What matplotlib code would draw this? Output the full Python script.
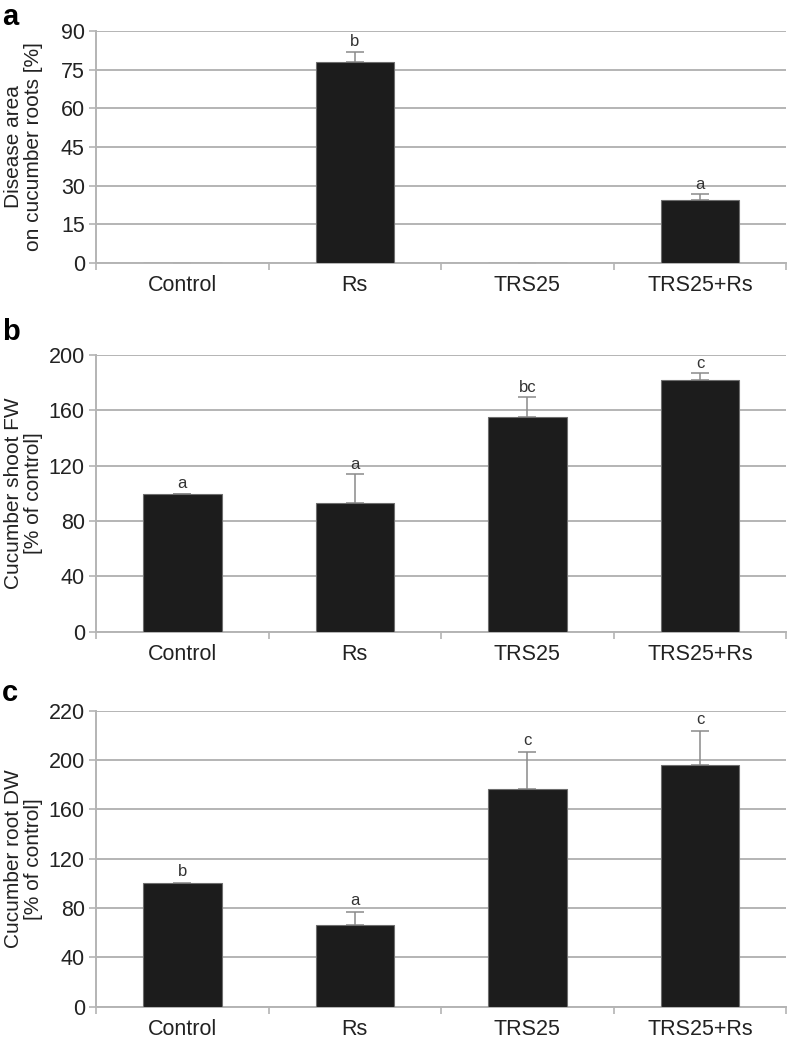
import matplotlib.pyplot as plt
import numpy as np

plt.rcParams['font.family'] = ['Liberation Sans', 'DejaVu Sans']

categories = ['Control', 'Rs', 'TRS25', 'TRS25+Rs']

# panel a: disease area
disease = [0, 78.1, 0, 24.4]
disease_err = [0, 3.9, 0, 2.2]
disease_letters = ['', 'b', '', 'a']

# panel b: shoot FW
shoot = [99.3, 93.2, 155.0, 181.9]
shoot_err = [0.3, 20.6, 14.4, 4.9]
shoot_letters = ['a', 'a', 'bc', 'c']

# panel c: root DW
root = [100.2, 66.3, 176.6, 196.1]
root_err = [0, 10.5, 30.3, 27.8]
root_letters = ['b', 'a', 'c', 'c']
root_tick_labels = ['0', '40', '80', '120', '160', '200', '220']

fig = plt.figure(figsize=(7.88, 10.39), dpi=100)
grid_c = '#b4b4b4'
bar_c = '#1c1c1c'
x = np.arange(len(categories))


def panel(rect, vals, errs, letters, yticks, ylabel, tag, tag_y, tick_labels=None, letter_pad=0):
    ax = fig.add_axes(rect)
    ax.bar(x, vals, width=0.455, color=bar_c, edgecolor='#6e6e6e', linewidth=0.8, zorder=3)
    err = [e if e > 0 else np.nan for e in errs]
    ax.errorbar(x, vals, yerr=[np.zeros(len(err)), err], fmt='none', ecolor='#8a8a8a',
                elinewidth=1.1, capsize=6.5, capthick=1.1, zorder=2)
    for xi, v, e, t in zip(x, vals, errs, letters):
        if t:
            ax.text(xi, v + e + letter_pad, t, ha='center', va='bottom', fontsize=12,
                    color='#333333')
    ax.set_xlim(-0.5, 3.5)
    ax.set_ylim(yticks[0], yticks[-1])
    ax.set_yticks(yticks)
    if tick_labels is not None:
        ax.set_yticklabels(tick_labels)
    ax.yaxis.grid(True, color=grid_c, linewidth=1.4, zorder=0)
    ax.set_axisbelow(True)
    ax.set_xticks(x)
    ax.set_xticklabels(categories)
    ax.set_xticks(np.arange(-0.5, 4, 1), minor=True)
    ax.tick_params(axis='x', which='major', length=0, pad=9, labelsize=15.5, labelcolor='#222222')
    ax.tick_params(axis='x', which='minor', length=5, color=grid_c, width=1.2)
    ax.tick_params(axis='y', length=5, color=grid_c, width=1.2, labelsize=15.5,
                   labelcolor='#222222', pad=3)
    for s in ['top', 'right']:
        ax.spines[s].set_visible(False)
    for s in ['left', 'bottom']:
        ax.spines[s].set_color(grid_c)
        ax.spines[s].set_linewidth(1.4)
    ax.set_ylabel(ylabel, fontsize=15, color='#222222', linespacing=1.05)
    ax.yaxis.label.set_va('center')
    ax.yaxis.set_label_coords(-0.105, 0.5)
    fig.text(0.003, tag_y, tag, fontsize=21, fontweight='bold', va='center', ha='left')
    return ax


panel([0.1218, 0.7469, 0.876, 0.2233], disease, disease_err, disease_letters,
      np.arange(0, 91, 15), 'Disease area\non cucumber roots [%]', 'a', 0.984, letter_pad=1)
panel([0.1218, 0.3920, 0.876, 0.2663], shoot, shoot_err, shoot_letters,
      np.arange(0, 201, 40), 'Cucumber shoot FW\n[% of control]', 'b', 0.680, letter_pad=2)
panel([0.1218, 0.0311, 0.876, 0.2849], root, root_err, root_letters,
      np.arange(0, 241, 40), 'Cucumber root DW\n[% of control]', 'c', 0.333,
      tick_labels=root_tick_labels, letter_pad=3)

fig.savefig('out.png', dpi=100)
